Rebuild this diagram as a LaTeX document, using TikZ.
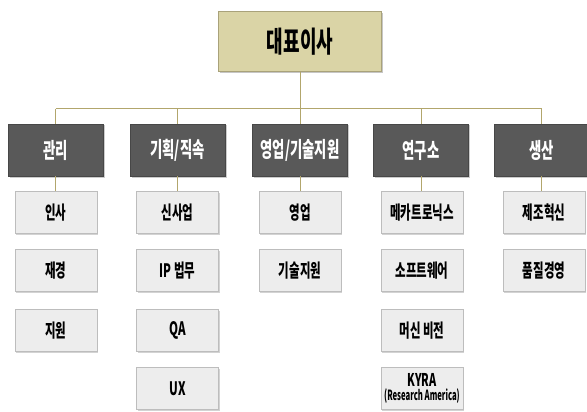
\documentclass[tikz,border=0pt]{standalone}
\usepackage{fontspec}
\newfontfamily\kr[FakeStretch=0.62]{Noto Sans CJK KR}
\newfontfamily\krn[FakeStretch=0.55]{Noto Sans CJK KR}
\usetikzlibrary{shadows}
\definecolor{topfill}{HTML}{DAD4A6}
\definecolor{topedge}{HTML}{A9A27A}
\definecolor{darkfill}{HTML}{595959}
\definecolor{subfill}{HTML}{EDEDED}
\definecolor{subedge}{HTML}{BDBDBD}
\definecolor{linecol}{HTML}{B2A66C}
\tikzset{
  topbox/.style={draw=topedge, line width=1pt, fill=topfill, minimum width=163pt, minimum height=60pt,
    inner sep=0pt, font=\kr\bfseries\fontsize{29}{31}\selectfont,
    drop shadow={shadow xshift=1.5pt, shadow yshift=-1.5pt, opacity=0.45}},
  deptbox/.style={draw=darkfill!80!black, line width=0.8pt, fill=darkfill, text=white, minimum width=95pt, minimum height=52pt,
    inner sep=0pt, font=\kr\bfseries\fontsize{21.5}{23}\selectfont,
    drop shadow={shadow xshift=1.5pt, shadow yshift=-1.5pt, opacity=0.4}},
  subbox/.style={draw=subedge, line width=0.6pt, fill=subfill, minimum width=82pt, minimum height=42pt,
    inner sep=0pt, font=\kr\bfseries\fontsize{18.5}{20}\selectfont, align=center,
    drop shadow={shadow xshift=1.2pt, shadow yshift=-1.2pt, opacity=0.35}},
  conn/.style={draw=linecol, line width=1pt}
}
\begin{document}
\begin{tikzpicture}[x=1pt,y=-1pt]
\useasboundingbox (0,0) rectangle (587,412);
\coordinate (bus) at (0,109);
% top
\node[topbox] (ceo) at (300,42) {대표이사};
% departments
\node[deptbox] (d1) at (55.5,150) {관리};
\node[deptbox] (d2) at (177.5,150) {기획/직속};
\node[deptbox] (d3) at (300,150) {영업/기술지원};
\node[deptbox] (d4) at (421,150) {연구소};
\node[deptbox] (d5) at (541.5,150) {생산};
% sub units
\node[subbox] (a1) at (56,212.5) {인사};
\node[subbox] (a2) at (56,270.5) {재경};
\node[subbox] (a3) at (56,330.5) {지원};
\node[subbox] (b1) at (177.5,212.5) {신사업};
\node[subbox] (b2) at (177.5,270.5) {IP 법무};
\node[subbox] (b3) at (177.5,330.5) {QA};
\node[subbox] (b4) at (177.5,388.5) {UX};
\node[subbox] (c1) at (300,212.5) {영업};
\node[subbox] (c2) at (300,270.5) {기술지원};
\node[subbox] (e1) at (422,212.5) {메카트로닉스};
\node[subbox] (e2) at (422,270.5) {소프트웨어};
\node[subbox] (e3) at (422,330.5) {머신 비전};
\node[subbox, font=\kr\bfseries\fontsize{17.5}{15}\selectfont] (e4) at (422,388.5) {KYRA\\[-1pt]{\krn\fontsize{14}{14}\selectfont (Research America)}};
\node[subbox] (f1) at (544,212.5) {제조혁신};
\node[subbox] (f2) at (544,270.5) {품질경영};
% connectors
\draw[conn] (ceo.south) -- (ceo.south |- bus);
\draw[conn] (d1.north |- bus) -- (d5.north |- bus);
\foreach \d in {d1,d2,d3,d4,d5} \draw[conn] (\d.north |- bus) -- (\d.north);
\draw[conn] (d1.south) -- (d1.south |- a1.north);
\draw[conn] (d2.south) -- (b1.north);
\draw[conn] (d3.south) -- (c1.north);
\draw[conn] (d4.south) -- (d4.south |- e1.north);
\draw[conn] (d5.south) -- (d5.south |- f1.north);
\end{tikzpicture}
\end{document}
